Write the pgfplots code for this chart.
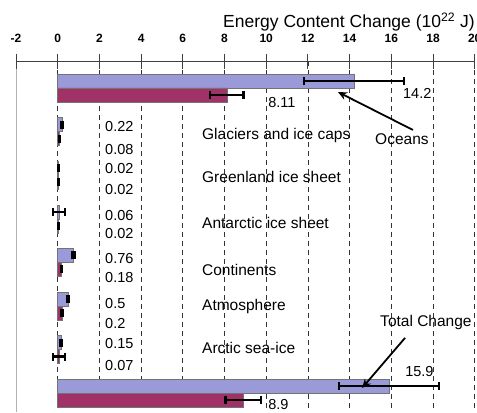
\documentclass[border=0pt]{standalone}
\usepackage{pgfplots}
\pgfplotsset{compat=1.18}
\usepackage{fontspec}
\setmainfont{Liberation Sans}
\usetikzlibrary{arrows.meta}
\definecolor{blueBar}{RGB}{154,154,216}
\definecolor{redBar}{RGB}{160,50,104}
\begin{document}
\begin{tikzpicture}
\begin{axis}[
  scale only axis,
  width=458.7pt, height=351pt,
  xmin=-2, xmax=20, ymin=-0.619, ymax=7.431,
  y dir=reverse,
  clip=false,
  axis x line*=top, axis y line*=left,
  x axis line style={black!75, line width=0.9pt},
  y axis line style={black!30, line width=0.9pt},
  ytick=\empty,
  xtick={0,2,...,20},
  extra x ticks={-2},
  extra x tick style={grid=none},
  xmajorgrids,
  grid style={black!80, line width=0.8pt, dash pattern=on 5pt off 4pt},
  tick align=center,
  major tick length=15pt,
  tick style={black!75, line width=0.9pt},
  xticklabel style={font=\fontsize{12}{13}\selectfont\bfseries, anchor=base, yshift=11pt},
  /pgf/number format/assume math mode=true,
  xbar, bar width=0.32,
]
\addplot[xbar, bar shift=-0.16, fill=blueBar, draw=black!55, line width=0.5pt,
  error bars/.cd, x dir=both, x explicit, error mark=|,
  error bar style={line width=2.2pt, black},
  error mark options={line width=2.2pt, mark size=4pt, black}]
  coordinates {
  (14.2,0) +- (2.4,0)
  (0.22,1) +- (0.05,0)
  (0.02,2) +- (0.02,0)
  (0.06,3) +- (0.28,0)
  (0.76,4) +- (0.05,0)
  (0.5,5) +- (0.05,0)
  (0.15,6) +- (0.05,0)
  (15.9,7) +- (2.4,0)
  };
\addplot[xbar, bar shift=0.16, fill=redBar, draw=black!55, line width=0.5pt,
  error bars/.cd, x dir=both, x explicit, error mark=|,
  error bar style={line width=2.2pt, black},
  error mark options={line width=2.2pt, mark size=4pt, black}]
  coordinates {
  (8.11,0) +- (0.8,0)
  (0.08,1) +- (0.03,0)
  (0.02,2) +- (0.02,0)
  (0.02,3) +- (0.02,0)
  (0.18,4) +- (0.02,0)
  (0.2,5) +- (0.05,0)
  (0.07,6) +- (0.28,0)
  (8.9,7) +- (0.85,0)
  };
% title
\node[anchor=base east, font=\fontsize{17.5}{18}\selectfont, inner sep=0pt]
  at (axis cs:20.01,-1.383) {Energy Content Change (10\textsuperscript{22} J)};
% value labels
\begin{scope}[every node/.style={font=\fontsize{14.5}{15}\selectfont, inner sep=0pt, anchor=west}]
\node at (axis cs:16.56,0.115) {14.2};
\node at (axis cs:10.09,0.344) {8.11};
\node at (axis cs:16.66,6.51) {15.9};
\node at (axis cs:10.09,7.27) {8.9};
\node at (axis cs:2.27,0.894) {0.22};
\node at (axis cs:2.27,1.422) {0.08};
\node at (axis cs:2.27,1.835) {0.02};
\node at (axis cs:2.27,2.339) {0.02};
\node at (axis cs:2.27,2.913) {0.06};
\node at (axis cs:2.27,3.326) {0.02};
\node at (axis cs:2.27,3.899) {0.76};
\node at (axis cs:2.27,4.335) {0.18};
\node at (axis cs:2.27,4.931) {0.5};
\node at (axis cs:2.27,5.390) {0.2};
\node at (axis cs:2.27,5.849) {0.15};
\node at (axis cs:2.27,6.353) {0.07};
\end{scope}
\begin{scope}[every node/.style={font=\fontsize{15.5}{16}\selectfont, inner sep=0pt, anchor=west}]
\node at (axis cs:6.92,1.10) {Glaciers and ice caps};
\node at (axis cs:6.92,2.04) {Greenland ice sheet};
\node at (axis cs:6.92,3.10) {Antarctic ice sheet};
\node at (axis cs:6.92,4.17) {Continents};
\node at (axis cs:6.92,5.02) {Atmosphere};
\node at (axis cs:6.92,5.96) {Arctic sea-ice};
\node at (axis cs:15.22,1.17) {Oceans};
\node at (axis cs:15.46,5.37) {Total Change};
\end{scope}
\draw[line width=1.8pt, -{Stealth[length=9pt, width=8pt]}] (axis cs:17.04,0.963) -- (axis cs:13.44,0.092);
\draw[line width=1.8pt, -{Stealth[length=9pt, width=8pt]}] (axis cs:16.66,5.73) -- (axis cs:14.6,6.88);
\coordinate (bbsw) at (axis cs:-2.767,7.431);
\coordinate (bbne) at (axis cs:20.11,-2.018);
\end{axis}
\pgfresetboundingbox
\useasboundingbox (bbsw) rectangle (bbne);
\end{tikzpicture}
\end{document}
